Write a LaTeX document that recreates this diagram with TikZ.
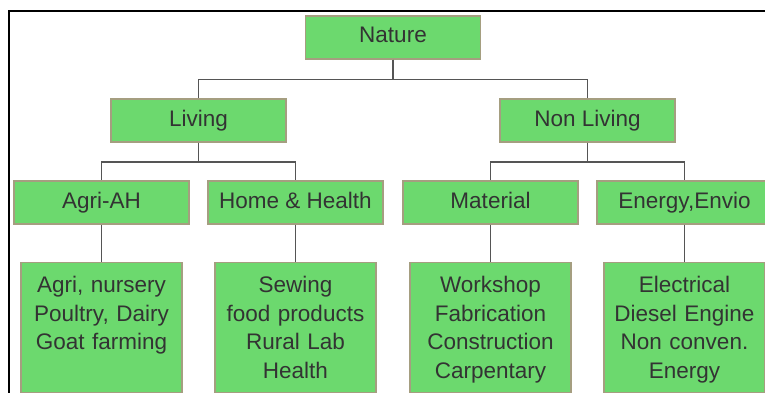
\documentclass[tikz,border=0pt]{standalone}
\usepackage{fontspec}
\setmainfont{Liberation Sans}
\usetikzlibrary{positioning}

\definecolor{boxgreen}{RGB}{108,217,110}
\definecolor{boxrim}{RGB}{165,158,128}
\definecolor{wire}{RGB}{85,85,85}
\definecolor{ink}{RGB}{51,51,51}

\tikzset{
  box/.style={draw=boxrim, line width=1.2pt, fill=boxgreen, text=ink,
    minimum width=175pt, minimum height=43pt, text height=16pt, text depth=5pt,
    font=\fontsize{22.5}{28.5}\selectfont},
  leaf/.style={box, anchor=north, minimum width=161pt, minimum height=0pt,
    text width=151pt, align=center, inner xsep=5pt, inner ysep=14pt,
    text height=16pt, text depth=86pt},
}

\begin{document}
\begin{tikzpicture}[x=1pt, y=1pt, every node/.style={box},
    edge from parent/.style={draw=wire, line width=1.5pt},
    level 1/.style={sibling distance=389pt, level distance=83pt,
      edge from parent path={(\tikzparentnode.south) -- ++(0,-20) -| (\tikzchildnode.north)}},
    level 2/.style={sibling distance=194pt, level distance=82pt,
      edge from parent path={(\tikzparentnode.south) -- ++(0,-19.5) -| (\tikzchildnode.north)}},
    level 3/.style={level distance=59.5pt,
      edge from parent path={(\tikzparentnode.south) -- (\tikzchildnode.north)}}]
    \useasboundingbox (0,0) rectangle (765,-393);
    % frame
    \draw[line width=2.5pt] (8.75,-393) |- (765,-11.25);
    \node (nature) at (393,-37.5) {Nature}
        child {node (living) {Living}
            child {node (agri) {Agri-AH}
                child {node[leaf] (agrilist) {Agri, nursery\\ Poultry, Dairy\\ Goat farming}}}
            child {node (home) {Home \& Health}
                child {node[leaf] (homelist) {Sewing\\ food products\\ Rural Lab\\ Health}}}}
        child {node (nonliving) {Non Living}
            child {node (material) {Material}
                child {node[leaf] (materiallist) {Workshop\\ Fabrication\\ Construction\\ Carpentary}}}
            child {node (energy) {Energy,Envio}
                child {node[leaf] (energylist) {Electrical\\ Diesel Engine\\ Non conven.\\ Energy}}}};
\end{tikzpicture}
\end{document}
